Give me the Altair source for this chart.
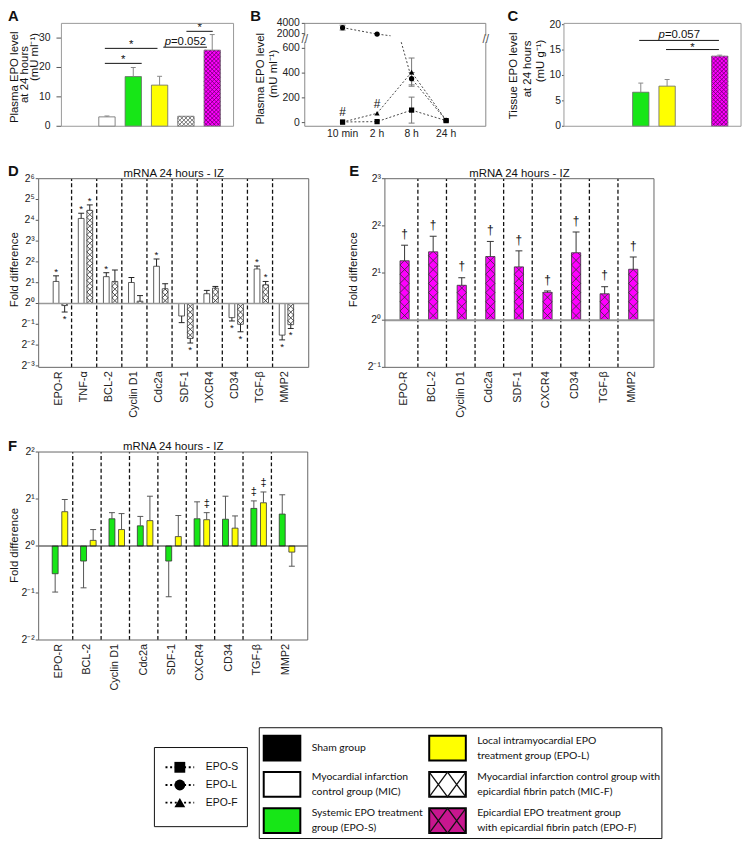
import json
import numpy as np
import pandas as pd
import altair as alt

FONT = "Liberation Sans"
LEGEND_FONT = "Lato"

# ============================ DATA ============================
GROUPS = ["Sham", "MIC", "EPO-S", "EPO-L", "MIC-F", "EPO-F"]
GROUP_LABELS = [
    "Sham group",
    "Myocardial infarction\ncontrol group (MIC)",
    "Systemic EPO treatment\ngroup (EPO-S)",
    "Local intramyocardial EPO\ntreatment group (EPO-L)",
    "Myocardial infarction control group  with\nepicardial fibrin patch (MIC-F)",
    "Epicardial EPO treatment group\nwith epicardial fibrin patch  (EPO-F)",
]
HATCHED = ["MIC-F", "EPO-F"]

# Panel A: plasma EPO at 24 h
A_MEAN = [0.0, 3.2, 16.9, 14.0, 3.4, 25.9]
A_ERR = [0.0, 0.3, 3.1, 3.0, 0.0, 5.3]
A_TICKS = [0, 10, 20, 30]
A_BR_FROM = [0.92, 0.92, 3.14, 4.02]
A_BR_TO = [2.32, 2.92, 4.80, 5.02]
A_BR_Y = [21.4, 26.5, 26.9, 32.3]
A_BR_LABEL = ["*", "*", "p=0.052", "*"]

# Panel B: plasma EPO time course
B_TIMES = ["10 min", "2 h", "8 h", "24 h"]
B_SERIES = ["EPO-S", "EPO-L", "EPO-F"]
B_S_MEAN = [5, 8, 101, 16]
B_S_ERR = [0, 0, 105, 0]
B_L_MEAN = [3165, 1900, 355, 18]
B_L_ERR = [480, 0, 50, 0]
B_F_MEAN = [4, 75, 408, 20]
B_F_ERR = [0, 0, 114, 0]
B_F_MARK = ["#", "#", "", ""]
B_TICKS_LO = [0, 200, 400, 600]
B_TICKS_UP = [2000, 4000]

# Panel C: tissue EPO at 24 h
C_MEAN = [0.0, 0.0, 6.7, 7.9, 0.0, 13.8]
C_ERR = [0.0, 0.0, 1.8, 1.3, 0.0, 0.2]
C_TICKS = [0, 5, 10, 15, 20]
C_BR_FROM = [1.94, 2.96]
C_BR_TO = [4.97, 4.97]
C_BR_Y = [16.9, 15.1]
C_BR_LABEL = ["p=0.057", "*"]

# Panel D: log2 fold difference, MIC and MIC-F
D_GENES = ["EPO-R", "TNF-α", "BCL-2", "Cyclin D1", "Cdc2a", "SDF-1", "CXCR4", "CD34", "TGF-β", "MMP2"]
D_MIC = [1.06, 4.09, 1.29, 1.01, 1.79, -0.60, 0.47, -0.68, 1.66, -1.52]
D_MIC_ERR = [0.27, 0.25, 0.19, 0.24, 0.35, 0.32, 0.16, 0.16, 0.14, 0.23]
D_MIC_SIG = ["*", "*", "*", "", "*", "", "", "*", "*", "*"]
D_MICF = [-0.10, 4.48, 1.06, 0.11, 0.71, -1.68, 0.74, -1.00, 0.90, -1.02]
D_MICF_ERR = [0.31, 0.26, 0.55, 0.27, 0.24, 0.22, 0.08, 0.36, 0.16, 0.18]
D_MICF_SIG = ["*", "*", "", "", "", "*", "", "*", "*", "*"]
D_TICKS = [-3, -2, -1, 0, 1, 2, 3, 4, 5, 6]

# Panel E: log2 fold difference, EPO-F
E_GENES = ["EPO-R", "BCL-2", "Cyclin D1", "Cdc2a", "SDF-1", "CXCR4", "CD34", "TGF-β", "MMP2"]
E_EPOF = [1.26, 1.45, 0.74, 1.35, 1.13, 0.59, 1.43, 0.56, 1.08]
E_EPOF_ERR = [0.33, 0.33, 0.16, 0.32, 0.34, 0.03, 0.44, 0.15, 0.26]
E_EPOF_SIG = ["†"] * 9
E_TICKS = [-1, 0, 1, 2, 3]

# Panel F: log2 fold difference, EPO-S and EPO-L
F_GENES = ["EPO-R", "BCL-2", "Cyclin D1", "Cdc2a", "SDF-1", "CXCR4", "CD34", "TGF-β", "MMP2"]
F_EPOS = [-0.59, -0.32, 0.58, 0.43, -0.32, 0.58, 0.57, 0.80, 0.68]
F_EPOS_ERR = [0.39, 0.57, 0.13, 0.20, 0.76, 0.36, 0.49, 0.16, 0.41]
F_EPOS_SIG = ["", "", "", "", "", "", "", "‡", ""]
F_EPOL = [0.73, 0.12, 0.35, 0.54, 0.20, 0.56, 0.38, 0.92, -0.13]
F_EPOL_ERR = [0.26, 0.23, 0.34, 0.52, 0.45, 0.15, 0.26, 0.23, 0.30]
F_EPOL_SIG = ["", "", "", "", "", "‡", "", "‡", ""]
F_TICKS = [-2, -1, 0, 1, 2]

# ============================ STYLE / LAYOUT ============================
GROUP_FILL = {"Sham": "#000000", "MIC": "#ffffff", "EPO-S": "#17e617", "EPO-L": "#ffff00",
              "MIC-F": "#ffffff", "EPO-F": "#ff00ff"}
LEGEND_FILL = dict(GROUP_FILL, **{"EPO-F": "#c8168f"})
AC_HATCH = {"MIC-F": "#555555", "EPO-F": "#6a006a"}
SHAPES = ["square", "circle", "triangle-up"]

W, H = 744, 838
A_X, A_XR, A_Y, A_YR = (-0.73, 5.81), (54, 228), (0, 35), (115, 11)
B_X, B_XR = (-1.095, 4.15), (300, 483)
B_YLO, B_YLO_R = (-29.6, 650), (115, 30)
B_YUP, B_YUP_R = (1573, 4000), (23.5, 11)
B_BREAK_FRAC = (0.39, 0.70)
C_X, C_XR, C_Y, C_YR = (-0.92, 5.81), (562, 741), (0, 20.25), (115, 11)
D_X, D_XR, D_Y, D_YR = (-0.81, 9.94), (31, 304), (-3.07, 6.0), (358.7, 168)
E_X, E_XR, E_Y, E_YR = (-0.654, 8.76), (381, 653), (-1, 3), (358.7, 168)
F_X, F_XR, F_Y, F_YR = (-0.70, 8.78), (31, 303), (-2, 2), (634.3, 444.3)

ONE = pd.DataFrame({"k": [0]})
SUP = {"-": "⁻", "0": "⁰", "1": "¹", "2": "²", "3": "³", "4": "⁴", "5": "⁵", "6": "⁶"}


def lin(dom, rng):
    return alt.Scale(domain=list(dom), range=list(rng), nice=False, zero=False)


def ppu(dom, rng):
    return abs(rng[1] - rng[0]) / (dom[1] - dom[0])


def xdat(v, xs):
    return alt.XDatum(v, type="quantitative", scale=xs, axis=None)


def ydat(v, ys):
    return alt.YDatum(v, type="quantitative", scale=ys, axis=None)


def y_axis(xs, ys, xd, pxx, values, labels, tick, pad, size=10.5):
    """Left axis: tick marks and labels placed through the panel's scales."""
    df = pd.DataFrame({"v": values, "lab": labels})
    out = [alt.Chart(df).mark_text(align="right", baseline="middle", dx=-(tick + pad), font=FONT,
                                   fontSize=size, color="#222").encode(
        x=xdat(xd[0], xs), y=alt.Y("v:Q", scale=ys, axis=None), text="lab:N")]
    if tick > 0:
        out.append(alt.Chart(df).mark_rule(color="#555", strokeWidth=1).encode(
            x=xdat(xd[0] - tick / pxx, xs), x2=alt.X2Datum(xd[0]), y=alt.Y("v:Q", scale=ys, axis=None)))
    return out


def frame_rect(xs, ys, xd, yd, color, sw=1.0):
    return alt.Chart(ONE).mark_rect(fillOpacity=0, stroke=color, strokeWidth=sw).encode(
        x=xdat(xd[0], xs), x2=alt.X2Datum(xd[1]), y=ydat(yd[0], ys), y2=alt.Y2Datum(yd[1]))


def hatch_segments(df, pxx, pxy, hw, cell_px):
    rows = []
    for _, r in df.iterrows():
        wp = 2 * hw * pxx
        hp = abs(r["value"]) * pxy
        if hp <= 0:
            continue
        sgn = 1 if r["value"] >= 0 else -1
        m = max(1, int(round(wp / cell_px)))
        c = wp / m
        kmax = int(np.ceil(hp / c)) + m + 2
        segs = []
        for k in range(-m - 2, kmax):
            xa, xb = max(0.0, -k * c), min(wp, hp - k * c)
            if xb - xa > 1e-6:
                segs.append((xa, xa + k * c, xb, xb + k * c))
            xa, xb = max(0.0, k * c - hp), min(wp, k * c)
            if xb - xa > 1e-6:
                segs.append((xa, k * c - xa, xb, k * c - xb))
        xl = r["pos"] - hw
        for xa, ya, xb, yb in segs:
            rows.append(dict(x=xl + xa / pxx, x2=xl + xb / pxx, y=sgn * ya / pxy, y2=sgn * yb / pxy,
                             hc=r["hc"]))
    return pd.DataFrame(rows, columns=["x", "x2", "y", "y2", "hc"])


def errbars(df, X, Y, cap_px, color, width=1.0, two_sided=False):
    base = alt.Chart(df).transform_filter("datum.err > 0").transform_calculate(
        e_hi="datum.value + (datum.value < 0 ? -1 : 1) * datum.err",
        e_lo=("datum.value - (datum.value < 0 ? -1 : 1) * datum.err" if two_sided else "datum.value"))
    out = [base.mark_rule(color=color, strokeWidth=width).encode(x=X("pos:Q"), y=Y("e_lo:Q"), y2="e_hi:Q"),
           base.mark_tick(orient="horizontal", size=cap_px, thickness=width, color=color, opacity=1)
           .encode(x=X("pos:Q"), y=Y("e_hi:Q"))]
    if two_sided:
        out.append(base.mark_tick(orient="horizontal", size=cap_px, thickness=width, color=color, opacity=1)
                   .encode(x=X("pos:Q"), y=Y("e_lo:Q")))
    return out


def sig_text(df, X, Y, size, dy_pos, dy_neg):
    base = alt.Chart(df).transform_filter("datum.sig != ''").transform_calculate(
        e_hi="datum.value + (datum.value < 0 ? -1 : 1) * datum.err")
    out = []
    for cond, dy in (("datum.value >= 0", dy_pos), ("datum.value < 0", dy_neg)):
        out.append(base.transform_filter(cond).mark_text(
            font=FONT, fontSize=size, baseline="alphabetic", dy=dy, color="#111").encode(
            x=X("pos:Q"), y=Y("e_hi:Q"), text="sig:N"))
    return out


def brackets(df, X, Y, star_dy, p_dy, fs=11.5):
    line = alt.Chart(df).mark_rule(color="#111", strokeWidth=1).encode(
        x=X("x1:Q"), x2="x2:Q", y=Y("y:Q"))
    mid = alt.Chart(df).transform_calculate(xm="(datum.x1 + datum.x2) / 2")
    star = mid.transform_filter("datum.label == '*'").mark_text(
        font=FONT, fontSize=fs, baseline="alphabetic", dy=star_dy, color="#111").encode(
        x=X("xm:Q"), y=Y("y:Q"), text="label:N")
    pp = mid.transform_filter("datum.label != '*'").transform_calculate(rest="substring(datum.label, 1)")
    plead = pp.mark_text(font=FONT, fontSize=fs, fontStyle="italic", align="right", baseline="alphabetic",
                         dy=p_dy, dx=-14.3, color="#111").encode(x=X("xm:Q"), y=Y("y:Q"), text=alt.value("p"))
    prest = pp.mark_text(font=FONT, fontSize=fs, align="left", baseline="alphabetic",
                         dy=p_dy, dx=-14.3, color="#111").encode(x=X("xm:Q"), y=Y("y:Q"), text="rest:N")
    return [line, star, plead, prest]


# ---------------- Panels A and C (group bars) ----------------
def group_panel(means, errs, xd, xr, yd, yr, ticks, tick, pad, br, star_dy, p_dy, tick_size):
    xs, ys = lin(xd, xr), lin(yd, yr)
    pxx, pxy = ppu(xd, xr), ppu(yd, yr)
    hw = 16.5 / 2 / pxx
    X = lambda f: alt.X(f, scale=xs, axis=None)
    Y = lambda f: alt.Y(f, scale=ys, axis=None)
    df = pd.DataFrame({"group": GROUPS, "pos": list(range(len(GROUPS))), "value": means, "err": errs})
    df = df[df["value"] > 0].copy()
    df["fill"] = df["group"].map(GROUP_FILL)
    df["hatch"] = df["group"].isin(HATCHED)
    df["hc"] = df["group"].map(AC_HATCH).fillna("#000")
    rect = alt.Chart(df).transform_calculate(xa=f"datum.pos - {hw}", xb=f"datum.pos + {hw}", base="0")
    bars = rect.mark_rect().encode(x=X("xa:Q"), x2="xb:Q", y=Y("base:Q"), y2="value:Q",
                                   fill=alt.Fill("fill:N", scale=None))
    segs = hatch_segments(df[df["hatch"]], pxx, pxy, hw, 4.1)
    hatch = alt.Chart(segs).mark_rule(strokeWidth=0.8).encode(
        x=X("x:Q"), x2="x2:Q", y=Y("y:Q"), y2="y2:Q", color=alt.Color("hc:N", scale=None))
    outline = rect.mark_rect(fillOpacity=0, stroke="#666", strokeWidth=0.8).encode(
        x=X("xa:Q"), x2="xb:Q", y=Y("base:Q"), y2="value:Q")
    layers = [bars, hatch, outline] + errbars(df, X, Y, 5, "#888") + brackets(br, X, Y, star_dy, p_dy)
    layers += y_axis(xs, ys, xd, pxx, ticks, [str(t) for t in ticks], tick, pad, tick_size)
    layers.append(frame_rect(xs, ys, xd, yd, "#999"))
    return alt.layer(*layers)


A_br = pd.DataFrame({"x1": A_BR_FROM, "x2": A_BR_TO, "y": A_BR_Y, "label": A_BR_LABEL})
C_br = pd.DataFrame({"x1": C_BR_FROM, "x2": C_BR_TO, "y": C_BR_Y, "label": C_BR_LABEL})
panel_A = group_panel(A_MEAN, A_ERR, A_X, A_XR, A_Y, A_YR, A_TICKS, 5, 6, A_br, 0, -2, 10.5)
panel_C = group_panel(C_MEAN, C_ERR, C_X, C_XR, C_Y, C_YR, C_TICKS, 2, 1, C_br, 1.5, -2, 10.5)

# ---------------- Panel B (broken-axis time course) ----------------
b_rows = []
for s, means, errs in zip(B_SERIES, [B_S_MEAN, B_L_MEAN, B_F_MEAN], [B_S_ERR, B_L_ERR, B_F_ERR]):
    for i, t in enumerate(B_TIMES):
        b_rows.append(dict(series=s, pos=float(i), value=float(means[i]), err=float(errs[i]),
                           sig=(B_F_MARK[i] if s == "EPO-F" else "")))
bdf = pd.DataFrame(b_rows)
is_up = bdf["value"] > B_YUP[0]
up_extra, lo_extra = [], []
for s in B_SERIES:
    sub = bdf[bdf["series"] == s].sort_values("pos").reset_index(drop=True)
    for j in range(len(sub) - 1):
        a, b = sub.loc[j], sub.loc[j + 1]
        ua, ub = a["value"] > B_YUP[0], b["value"] > B_YUP[0]
        if ua and not ub:
            up_extra.append(dict(series=s, pos=a["pos"] + B_BREAK_FRAC[0], value=B_YUP[0]))
            lo_extra.append(dict(series=s, pos=a["pos"] + B_BREAK_FRAC[1], value=B_YLO[1]))
        elif ub and not ua:
            lo_extra.append(dict(series=s, pos=b["pos"] - B_BREAK_FRAC[1], value=B_YLO[1]))
            up_extra.append(dict(series=s, pos=b["pos"] - B_BREAK_FRAC[0], value=B_YUP[0]))
b_up = bdf[is_up]
b_lo = bdf[~is_up]
line_up = pd.concat([b_up[["series", "pos", "value"]], pd.DataFrame(up_extra)], ignore_index=True)
line_lo = pd.concat([b_lo[["series", "pos", "value"]], pd.DataFrame(lo_extra)], ignore_index=True)

bxs = lin(B_X, B_XR)
b_pxx = ppu(B_X, B_XR)
shape_enc = alt.Shape("series:N", scale=alt.Scale(domain=B_SERIES, range=SHAPES), legend=None)


def b_part(pts, lines, yd, yr, ticks, lower):
    ys = lin(yd, yr)
    X = lambda f: alt.X(f, scale=bxs, axis=None)
    Y = lambda f: alt.Y(f, scale=ys, axis=None)
    rule = alt.Chart(ONE).mark_rule(color="#888", strokeWidth=1)
    layers = [
        rule.encode(x=xdat(B_X[0], bxs), y=ydat(yd[0], ys), y2=alt.Y2Datum(yd[1])),
        rule.encode(x=xdat(B_X[1], bxs), y=ydat(yd[0], ys), y2=alt.Y2Datum(yd[1])),
        rule.encode(x=xdat(B_X[0], bxs), x2=alt.X2Datum(B_X[1]), y=ydat(yd[0] if lower else yd[1], ys)),
        alt.Chart(lines).mark_line(color="#444", strokeWidth=1, strokeDash=[2, 2]).encode(
            x=X("pos:Q"), y=Y("value:Q"), detail="series:N", order="pos:Q"),
    ]
    layers += errbars(pts, X, Y, 6, "#777", 1, two_sided=True)
    layers.append(alt.Chart(pts).mark_point(filled=True, color="black", size=28, opacity=1).encode(
        x=X("pos:Q"), y=Y("value:Q"), shape=shape_enc))
    layers += y_axis(bxs, ys, B_X, b_pxx, ticks, [str(t) for t in ticks], 3, 2)
    if lower:
        layers.append(alt.Chart(pts).transform_filter("datum.sig != ''").mark_text(
            font=FONT, fontSize=12, baseline="alphabetic", dy=-5.8, color="#111").encode(
            x=X("pos:Q"), y=Y("value:Q"), text="sig:N"))
        tdf = pd.DataFrame({"time": B_TIMES, "pos": list(range(len(B_TIMES)))})
        layers.append(alt.Chart(tdf).mark_text(baseline="top", dy=3, font=FONT, fontSize=10.5,
                                               color="#222").encode(
            x=X("pos:Q"), y=ydat(yd[0], ys), text="time:N"))
        brk = alt.Chart(ONE).mark_text(text="//", font=FONT, fontSize=12, color="#555")
        layers.append(brk.encode(x=xdat(B_X[0], bxs), y=alt.value(27)))
        layers.append(brk.encode(x=xdat(B_X[1], bxs), y=alt.value(27)))
    return alt.layer(*layers)


panel_B_lo = b_part(b_lo, line_lo, B_YLO, B_YLO_R, B_TICKS_LO, True)
panel_B_up = b_part(b_up, line_up, B_YUP, B_YUP_R, B_TICKS_UP, False)


# ---------------- Panels D, E, F (gene fold differences) ----------------
def sup_label(v):
    return "2" + "".join(SUP[ch] for ch in str(v))


def gene_panel(genes, series, xd, xr, yd, yr, ticks, bar_px, hatch_color, err_color, cap_px,
               zero_color, zero_w, sig_size, dy_pos, dy_neg):
    xs, ys = lin(xd, xr), lin(yd, yr)
    pxx, pxy = ppu(xd, xr), ppu(yd, yr)
    hw = bar_px / 2 / pxx
    X = lambda f: alt.X(f, scale=xs, axis=None)
    Y = lambda f: alt.Y(f, scale=ys, axis=None)
    rows = []
    for s in series:
        for i, g in enumerate(genes):
            rows.append(dict(gene=g, idx=i, pos=i + s["off_px"] / pxx, value=s["values"][i], err=s["errs"][i],
                             sig=s["sigs"][i], fill=s["fill"], hatch=s["hatch"], hc=hatch_color))
    df = pd.DataFrame(rows)
    n = len(genes)
    gdf = pd.DataFrame({"gene": genes, "idx": list(range(n))})
    seps = alt.Chart(gdf).transform_filter(f"datum.idx < {n - 1}").transform_calculate(
        sep="datum.idx + 0.5").mark_rule(color="#111", strokeWidth=1.3, strokeDash=[4, 2.5]).encode(
        x=X("sep:Q"), y=ydat(yd[0], ys), y2=alt.Y2Datum(yd[1]))
    rect = alt.Chart(df).transform_calculate(xa=f"datum.pos - {hw}", xb=f"datum.pos + {hw}", base="0")
    bars = rect.mark_rect().encode(x=X("xa:Q"), x2="xb:Q", y=Y("base:Q"), y2="value:Q",
                                   fill=alt.Fill("fill:N", scale=None))
    segs = hatch_segments(df[df["hatch"]], pxx, pxy, hw, bar_px)
    hatch = alt.Chart(segs).mark_rule(strokeWidth=0.8).encode(
        x=X("x:Q"), x2="x2:Q", y=Y("y:Q"), y2="y2:Q", color=alt.Color("hc:N", scale=None))
    outline = rect.mark_rect(fillOpacity=0, stroke="#333", strokeWidth=0.8).encode(
        x=X("xa:Q"), x2="xb:Q", y=Y("base:Q"), y2="value:Q")
    zero = alt.Chart(ONE).mark_rule(color=zero_color, strokeWidth=zero_w).encode(
        x=xdat(xd[0], xs), x2=alt.X2Datum(xd[1]), y=ydat(0, ys))
    title = alt.Chart(ONE).mark_text(text="mRNA 24 hours - IZ", font=FONT, fontSize=11.5, baseline="bottom",
                                     color="#111").encode(x=xdat((xd[0] + xd[1]) / 2, xs), y=ydat(yd[1], ys))
    genelab = alt.Chart(gdf).mark_text(angle=270, align="right", baseline="middle", dx=-4, font=FONT,
                                       fontSize=11, color="#222").encode(
        x=X("idx:Q"), y=ydat(yd[0], ys), text="gene:N")
    layers = [seps, bars, hatch, outline, zero] + errbars(df, X, Y, cap_px, err_color) + \
        sig_text(df, X, Y, sig_size, dy_pos, dy_neg) + \
        y_axis(xs, ys, xd, pxx, ticks, [sup_label(t) for t in ticks], 3, 1) + \
        [genelab, frame_rect(xs, ys, xd, yd, "#666"), title]
    return alt.layer(*layers)


panel_D = gene_panel(
    D_GENES,
    [dict(values=D_MIC, errs=D_MIC_ERR, sigs=D_MIC_SIG, off_px=-3.0, fill=GROUP_FILL["MIC"], hatch=False),
     dict(values=D_MICF, errs=D_MICF_ERR, sigs=D_MICF_SIG, off_px=5.7, fill=GROUP_FILL["MIC-F"], hatch=True)],
    D_X, D_XR, D_Y, D_YR, D_TICKS, 5.8, "#222", "#222", 6, "#999", 1.5, 10, -1, 10)
panel_E = gene_panel(
    E_GENES,
    [dict(values=E_EPOF, errs=E_EPOF_ERR, sigs=E_EPOF_SIG, off_px=1.0, fill=GROUP_FILL["EPO-F"], hatch=True)],
    E_X, E_XR, E_Y, E_YR, E_TICKS, 9.3, "#333", "#333", 7, "#999", 2, 12, -7.4, 12)
panel_F = gene_panel(
    F_GENES,
    [dict(values=F_EPOS, errs=F_EPOS_ERR, sigs=F_EPOS_SIG, off_px=-3.4, fill=GROUP_FILL["EPO-S"], hatch=False),
     dict(values=F_EPOL, errs=F_EPOL_ERR, sigs=F_EPOL_SIG, off_px=6.3, fill=GROUP_FILL["EPO-L"], hatch=False)],
    F_X, F_XR, F_Y, F_YR, F_TICKS, 6.0, "#222", "#555", 6, "#222", 1, 11, -6, 12)

# ---------------- Legends ----------------
box = lambda x0, x1, y0, y1: alt.Chart(ONE).mark_rect(fillOpacity=0, stroke="#111", strokeWidth=1).encode(
    x=alt.value(x0), x2=alt.value(x1), y=alt.value(y0), y2=alt.value(y1))

sm = pd.DataFrame({"series": B_SERIES})
ysm = alt.Y("series:N", scale=alt.Scale(type="point", domain=B_SERIES, range=[763, 798.7], padding=0), axis=None)
legend_small = alt.layer(
    box(148, 242, 743, 823),
    alt.Chart(sm).mark_point(shape="M-1,0L1,0", size=29 ** 2, filled=False, stroke="black", strokeWidth=2,
                             strokeDash=[2, 2.7], opacity=1).encode(x=alt.value(173.7), y=ysm),
    alt.Chart(sm).mark_point(filled=True, color="black", size=120, opacity=1).encode(
        x=alt.value(173.7), y=ysm, shape=shape_enc),
    alt.Chart(sm).mark_text(align="left", baseline="middle", font=FONT, fontSize=10.5, color="#111").encode(
        x=alt.value(200), y=ysm, text="series:N"),
)

leg = pd.DataFrame({"group": GROUPS, "label": GROUP_LABELS,
                    "row": [i % 3 for i in range(len(GROUPS))], "col": [i // 3 for i in range(len(GROUPS))]})
leg["fill"] = leg["group"].map(LEGEND_FILL)
leg["hatch"] = leg["group"].isin(HATCHED)
xl = alt.X("col:O", scale=alt.Scale(type="point", range=[277, 444.3], padding=0), axis=None)
yl = alt.Y("row:O", scale=alt.Scale(type="point", range=[743.7, 817], padding=0), axis=None)
SW_PATH = "M-1.48,-1L1.48,-1L1.48,1L-1.48,1Z"
HT_PATH = "M-1.48,-1L0,1L1.48,-1M-1.48,1L0,-1L1.48,1"
lab = alt.Chart(leg).transform_calculate(lines="split(datum.label, '\\n')",
                                         nl="length(split(datum.label, '\\n'))")
legend_big = alt.layer(
    box(254, 661, 723, 835),
    alt.Chart(leg).mark_point(shape=SW_PATH, size=625, filled=True, stroke="black", strokeWidth=2,
                              opacity=1).encode(x=xl, y=yl, fill=alt.Fill("fill:N", scale=None)),
    alt.Chart(leg).transform_filter("datum.hatch").mark_point(
        shape=HT_PATH, size=625, filled=False, stroke="#111", strokeWidth=1.3, opacity=1).encode(x=xl, y=yl),
    lab.transform_filter("datum.nl == 1").mark_text(
        align="left", baseline="middle", dx=30, font=LEGEND_FONT, fontSize=10.5, lineHeight=15.3,
        color="#111").encode(x=xl, y=yl, text="lines:N"),
    lab.transform_filter("datum.nl == 2").mark_text(
        align="left", baseline="middle", dx=30, dy=-7.65, font=LEGEND_FONT, fontSize=10.5, lineHeight=15.3,
        color="#111").encode(x=xl, y=yl, text="lines:N"),
)


# ---------------- Free text: panel letters and axis titles ----------------
def label(text, x, y, size=11.5, angle=0, weight="normal", align="center", baseline="middle"):
    return alt.Chart(ONE).mark_text(text=text, angle=angle, fontSize=size, fontWeight=weight, align=align,
                                    baseline=baseline, font=FONT, color="#111").encode(
        x=alt.value(x), y=alt.value(y))


texts = [
    label("A", 0, 9, 15, weight="bold", align="left", baseline="alphabetic"),
    label("B", 245, 9, 15, weight="bold", align="left", baseline="alphabetic"),
    label("C", 505, 9, 15, weight="bold", align="left", baseline="alphabetic"),
    label("D", 0, 165, 15, weight="bold", align="left", baseline="alphabetic"),
    label("E", 345, 165, 15, weight="bold", align="left", baseline="alphabetic"),
    label("F", 0, 443, 15, weight="bold", align="left", baseline="alphabetic"),
    label("Plasma EPO level", 7.5, 65.5, angle=270),
    label("at 24 hours", 17.5, 62.7, angle=270),
    label("(mU ml⁻¹)", 27.5, 45, angle=270),
    label("Plasma EPO level", 256, 67, angle=270),
    label("(mU ml⁻¹)", 268.5, 62, angle=270),
    label("Tissue EPO level", 512, 64, angle=270),
    label("at 24 hours", 525.3, 57, angle=270),
    label("(mU g⁻¹)", 539, 49, angle=270),
    label("Fold difference", 7.5, 260, angle=270),
    label("Fold difference", 350, 260, angle=270),
    label("Fold difference", 7.5, 538.7, angle=270),
]

chart = alt.layer(
    panel_A, panel_B_up, panel_B_lo, panel_C, panel_D, panel_E, panel_F, legend_small, legend_big, *texts
).resolve_scale(x="independent", y="independent").properties(
    width=W, height=H, padding=0, autosize=alt.AutoSizeParams(type="none")
).configure_view(stroke=None)

chart.save("out.html", embed_options={"renderer": "svg", "actions": False})
